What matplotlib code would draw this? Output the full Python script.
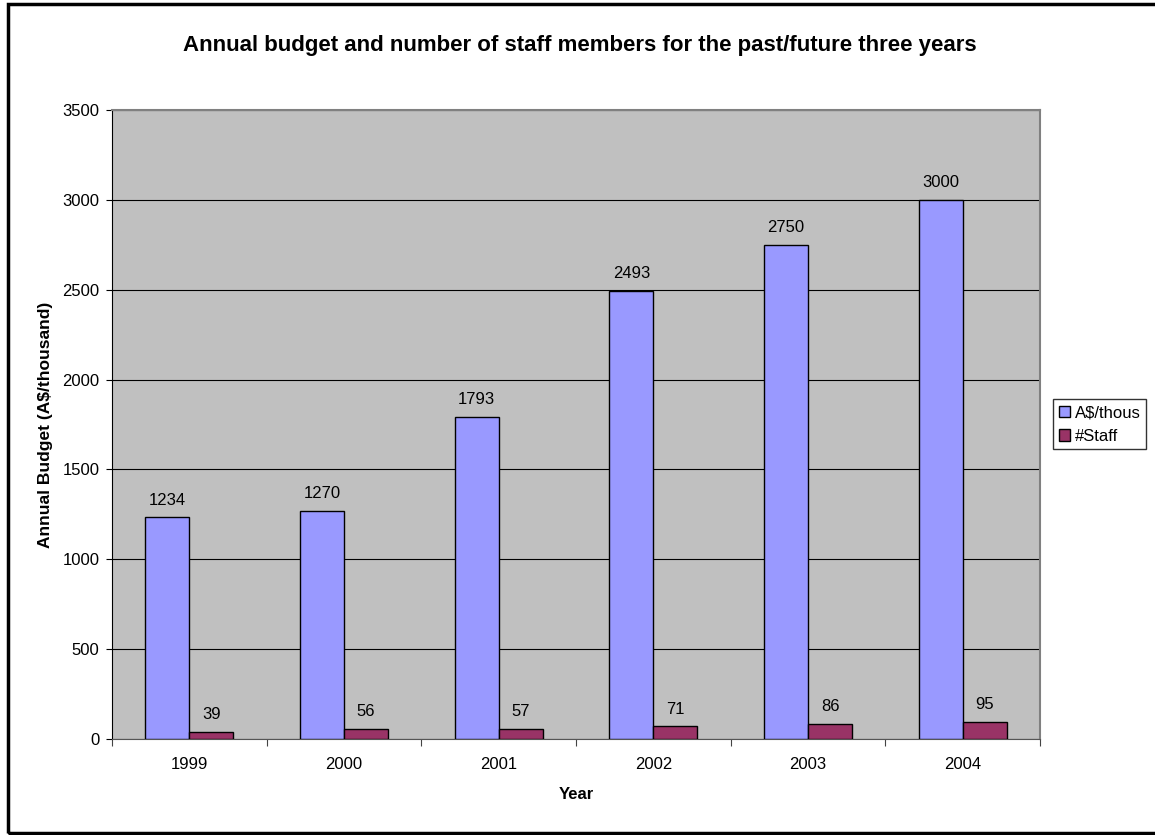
import numpy as np
import matplotlib
matplotlib.use('Agg')
import matplotlib.pyplot as plt
from matplotlib.patches import Rectangle

years = ['1999', '2000', '2001', '2002', '2003', '2004']
budget = [1234, 1270, 1793, 2493, 2750, 3000]
staff = [39, 56, 57, 71, 86, 95]

plt.rcParams['font.family'] = ['Liberation Sans', 'DejaVu Sans']

fig = plt.figure(figsize=(11.55, 8.35), dpi=100)
ax = fig.add_axes([112 / 1155, 1 - 739 / 835, 928 / 1155, 629 / 835])

# outer frame (right side runs off the page)
fig.add_artist(Rectangle((8 / 1155, 2 / 835), 1.2, 829 / 835, transform=fig.transFigure,
                         fill=False, edgecolor='black', linewidth=2.5))

x = np.arange(len(years))
w = 0.285
b1 = ax.bar(x - w / 2, budget, w, color='#9999FF', edgecolor='black', linewidth=1, label='A$/thous', zorder=3)
b2 = ax.bar(x + w / 2, staff, w, color='#993366', edgecolor='black', linewidth=1, label='#Staff', zorder=3)

for bars, vals in [(b1, budget), (b2, staff)]:
    for rect, v in zip(bars, vals):
        ax.annotate(str(v), (rect.get_x() + rect.get_width() / 2, v), xytext=(0, 7),
                    textcoords='offset points', ha='center', va='bottom', fontsize=12)

ax.set_xlim(-0.5, len(years) - 0.5)
ax.set_ylim(0, 3500)
ax.set_yticks(range(0, 3501, 500))
ax.set_xticks(np.arange(-0.5, len(years), 1.0))
ax.set_xticklabels([])
ax.set_xticks(x, minor=True)
ax.set_xticklabels(years, minor=True)
ax.tick_params(axis='x', which='minor', length=0, labelsize=12, pad=13)
ax.tick_params(axis='x', which='major', length=5, direction='out', color='#444444')
ax.tick_params(axis='y', length=4, direction='out', labelsize=12, pad=5)

ax.set_facecolor('#C0C0C0')
ax.yaxis.grid(True, color='black', linewidth=0.8, zorder=0)
ax.set_axisbelow(True)
for s in ['top', 'right']:
    ax.spines[s].set_color('#808080')
    ax.spines[s].set_linewidth(1.5)
ax.spines['left'].set_color('black')
ax.spines['bottom'].set_color('#555555')

ax.set_xlabel('Year', fontsize=12, fontweight='bold', labelpad=11)
ax.set_ylabel('Annual Budget (A$/thousand)', fontsize=12.5, fontweight='bold', labelpad=7)
fig.text(580 / 1155, 1 - 45 / 835, 'Annual budget and number of staff members for the past/future three years',
         ha='center', va='center', fontsize=16, fontweight='bold')

ax.legend(loc='center left', bbox_to_anchor=(1.014, 0.5), frameon=True, fancybox=False,
          edgecolor='black', fontsize=12, handlelength=0.7, handleheight=0.7, handletextpad=0.25,
          borderpad=0.35, labelspacing=0.5, borderaxespad=0)

fig.savefig('out.png', dpi=100)
